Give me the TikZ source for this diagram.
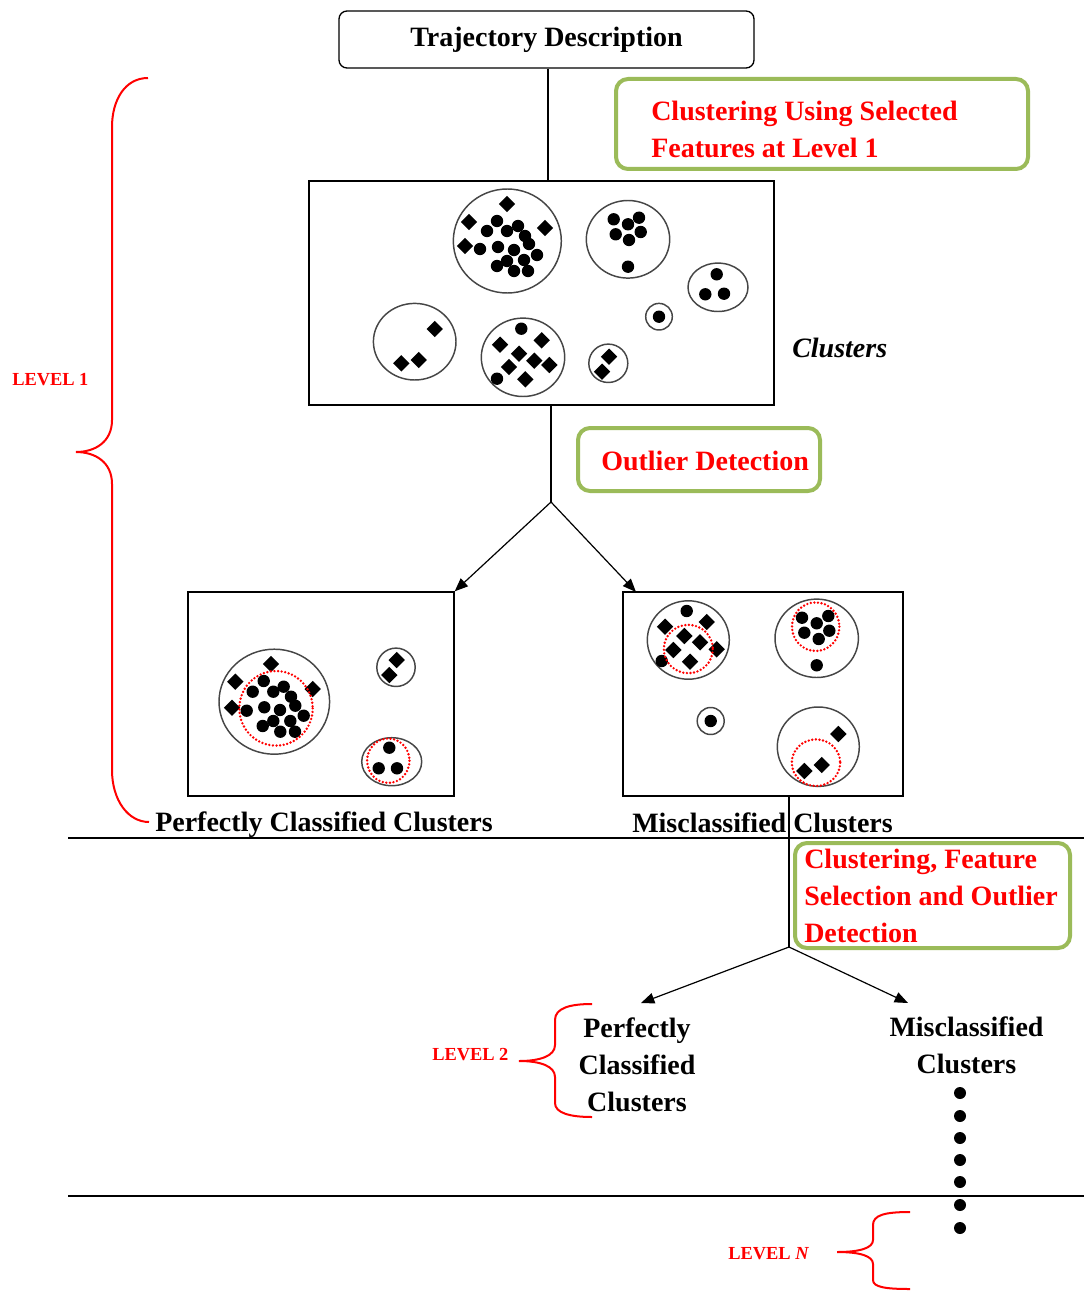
\documentclass[tikz,border=0pt]{standalone}
\usepackage{fontspec}
\setmainfont{Liberation Serif}
\usetikzlibrary{arrows.meta}
\definecolor{gbox}{RGB}{155,187,89}
\definecolor{cgray}{RGB}{70,70,70}
\newcommand\mydot[2]{\fill (#1,#2) circle [radius=6.2];}
\newcommand\mydia[2]{\fill (#1,#2) ++(0,-8.2) -- ++(8.2,8.2) -- ++(-8.2,8.2) -- ++(-8.2,-8.2) -- cycle;}
\newcommand\myell[4]{\draw[clu] (#1,#2) ellipse [x radius=#3, y radius=#4];}
\newcommand\myred[4]{\draw[redd] (#1,#2) ellipse [x radius=#3, y radius=#4];}
\begin{document}
\begin{tikzpicture}[x=0.75pt,y=-0.75pt,
 box/.style={draw, line width=1pt, inner sep=0},
 gbx/.style={draw=gbox, line width=3pt, rounded corners=9pt, inner sep=0},
 txt/.style={font=\fontsize{21}{27.75}\selectfont\bfseries, inner sep=0},
 rtxt/.style={txt, text=red},
 lvl/.style={font=\fontsize{13.8}{16}\selectfont\bfseries, text=red, inner sep=0},
 brc/.style={draw=red, line width=1.5pt},
 clu/.style={draw=cgray, line width=1.1pt},
 redd/.style={draw=red, line width=2pt, line cap=round, dash pattern=on 0pt off 2.7pt},
 conn/.style={line width=0.9pt},
 arr/.style={conn, -{Triangle[length=10pt,width=8pt]}},
]
\useasboundingbox (0,0) rectangle (1084,1291);

% boxes
\node[box, rounded corners=6pt, minimum width=311.25pt, minimum height=42.75pt, txt] (td) at (546.5,39.5) {Trajectory Description};
\node[gbx, minimum width=309pt, minimum height=67.5pt] (g1) at (822,124) {};
\node[box, minimum width=348.75pt, minimum height=168pt] (cl) at (541.5,293) {};
\node[gbx, minimum width=181.5pt, minimum height=47.25pt] (g2) at (699,459.5) {};
\node[box, minimum width=199.5pt, minimum height=153pt] (lb) at (321,694) {};
\node[box, minimum width=210pt, minimum height=153pt] (rb) at (763,694) {};
\node[gbx, minimum width=206.25pt, minimum height=78.75pt] (g3) at (932.5,895.5) {};

% texts
\node[rtxt, anchor=base west] (g1a) at (651,121) {Clustering Using Selected};
\node[rtxt, anchor=base west] (g1b) at (651,158) {Features at Level 1};
\node[rtxt, anchor=base west] (g2t) at (601,470) {Outlier Detection};
\node[txt, font=\fontsize{21}{27.75}\selectfont\bfseries\itshape, anchor=base west] (clt) at (792,357) {Clusters};
\node[txt, anchor=base west] (pcc) at (155,831) {Perfectly Classified Clusters};
\node[txt, anchor=base west] (mcc) at (632,832) {Misclassified Clusters};
\node[rtxt, anchor=base west] (g3a) at (804,868) {Clustering, Feature};
\node[rtxt, anchor=base west] (g3b) at (804,905) {Selection and Outlier};
\node[rtxt, anchor=base west] (g3c) at (804,942) {Detection};
\node[txt, anchor=base] (p2a) at (637,1037) {Perfectly};
\node[txt, anchor=base] (p2b) at (637,1074) {Classified};
\node[txt, anchor=base] (p2c) at (637,1111) {Clusters};
\node[txt, anchor=base] (m2a) at (966.5,1036) {Misclassified};
\node[txt, anchor=base] (m2b) at (966.5,1073) {Clusters};
\node[lvl, anchor=base west] (lv1) at (12,385) {LEVEL 1};
\node[lvl, anchor=base west] (lv2) at (432,1060) {LEVEL 2};
\node[lvl, anchor=base west] (lvn) at (728,1259) {LEVEL \textit{N}};

% connectors
\coordinate (v1) at (548,0);
\draw[conn] (td.south -| v1) -- (cl.north -| v1);
\coordinate (s1) at (551,502);
\coordinate (a2) at (636,592);
\draw[conn] (cl.south -| s1) -- (s1);
\draw[arr] (s1) -- (lb.north east);
\draw[arr] (s1) -- (a2);
\coordinate (s2) at (789,947);
\coordinate (a3) at (641,1003);
\coordinate (a4) at (908,1003);
\draw[conn] (rb.south -| s2) -- (s2);
\draw[arr] (s2) -- (a3);
\draw[arr] (s2) -- (a4);

% level separators
\coordinate (h1l) at (68,838); \coordinate (h1r) at (1084,838);
\coordinate (h2l) at (68,1196); \coordinate (h2r) at (1084,1196);
\draw[conn] (h1l) -- (h1r);
\draw[conn] (h2l) -- (h2r);

% continuation dots
\foreach \yy in {1093,1116,1138,1160,1182,1205,1228} \fill (960,\yy) circle [radius=6];

% braces
\draw[brc] (148,78) .. controls (125,78) and (112,100) .. (112,127) -- (112,420)
  .. controls (112,442) and (95,452) .. (76,452) .. controls (95,452) and (112,462) .. (112,484)
  -- (112,770) .. controls (112,800) and (128,822) .. (149,822);
\draw[brc] (592,1004) .. controls (570,1004) and (555,1008) .. (555,1020) -- (555,1045)
  .. controls (555,1056) and (540,1061) .. (519,1061) .. controls (540,1061) and (555,1066) .. (555,1077)
  -- (555,1103) .. controls (555,1113) and (570,1117) .. (592,1117);
\draw[brc] (910,1212) .. controls (885,1212) and (873,1215) .. (873,1225) -- (873,1240)
  .. controls (873,1248) and (860,1252) .. (837,1252) .. controls (860,1252) and (873,1256) .. (873,1264)
  -- (873,1280) .. controls (873,1287) and (885,1289) .. (910,1289);

% ---- top clusters ----
\myell{507.3}{241}{54}{52}
\mydia{507}{204}\mydia{469}{222}\mydia{545}{228}\mydia{465}{246}
\mydot{497}{221}\mydot{487}{231}\mydot{507}{231}\mydot{518}{226}\mydot{525}{236}
\mydot{529}{244}\mydot{480}{249}\mydot{498}{247}\mydot{514}{250}\mydot{537}{255}
\mydot{507}{261}\mydot{524}{260}\mydot{497}{266}\mydot{514}{271}\mydot{528}{271}

\myell{628}{239.3}{41.7}{38.8}
\mydot{613.7}{219.3}\mydot{628}{224.3}\mydot{639}{217.7}\mydot{615.7}{234.3}
\mydot{629}{240}\mydot{640.7}{232}\mydot{628}{266.7}

\myell{718}{287.3}{30}{24.2}
\mydot{716.7}{274.3}\mydot{705.3}{294.3}\mydot{724}{293.7}

\myell{659}{316.7}{13.3}{13.3}
\mydot{659}{316.7}

\myell{414.7}{341.7}{41.3}{38.3}
\mydia{434.7}{329}\mydia{418.7}{360}\mydia{401.3}{363.3}

\myell{523}{357.3}{41.7}{39.2}
\mydot{521.3}{328.7}
\mydia{500}{344.7}\mydia{541.7}{340.3}\mydia{519}{353.7}\mydia{534.3}{360.7}
\mydia{549.3}{365}\mydia{509}{367}\mydia{525.3}{379.3}
\mydot{497}{378.7}

\myell{608.3}{363.3}{19.5}{19.2}
\mydia{609}{356.7}\mydia{602}{371.7}

% ---- perfectly classified box ----
\myell{274.3}{701.7}{55.3}{52.5}
\mydia{271}{664}\mydia{235.3}{681.7}\mydia{312.7}{689}\mydia{232}{707.7}
\mydot{263.7}{681}\mydot{252.7}{691.7}\mydot{273.3}{691.7}\mydot{283.7}{686.7}
\mydot{291}{696.7}\mydot{295.3}{705.7}\mydot{246.7}{710.7}\mydot{264.3}{707.3}
\mydot{280}{710}\mydot{303.7}{715.7}\mydot{273.3}{721}\mydot{290.3}{721}
\mydot{262.7}{726}\mydot{280.3}{731.7}\mydot{295}{731.7}
\myred{276}{708.3}{36.7}{37.3}

\myell{396}{667.3}{19.2}{19.2}
\mydia{396.7}{660}\mydia{389.3}{675}

\myell{391.7}{761.7}{30}{24}
\mydot{389.3}{747.7}\mydot{378.7}{768.3}\mydot{397}{768.3}
\myred{388.3}{760.7}{21.2}{22.2}

% ---- misclassified box ----
\myell{688.3}{640}{41}{39.2}
\mydot{686.7}{611}
\mydia{665}{626.7}\mydia{706.7}{622}\mydia{684.3}{636}\mydia{700}{642.3}
\mydia{673.3}{650}\mydia{716.7}{649.3}\mydia{690}{661.7}
\mydot{661.7}{661}
\myred{688.3}{649}{24.5}{24.2}

\myell{816.7}{638.3}{41.7}{39.2}
\mydot{802}{617.7}\mydot{816.7}{623.3}\mydot{828.3}{616}\mydot{804.3}{632.7}
\mydot{818.7}{639}\mydot{829.3}{630.7}\mydot{816.7}{665.3}
\myred{815.7}{626.7}{23.7}{24.3}

\myell{710.7}{721}{13.5}{13.5}
\mydot{710.7}{721}

\myell{818.3}{746.7}{41}{39.7}
\mydia{838.3}{734}\mydia{804.3}{771}\mydia{821.7}{765}
\myred{816}{762.7}{24.2}{23.3}
\end{tikzpicture}
\end{document}
